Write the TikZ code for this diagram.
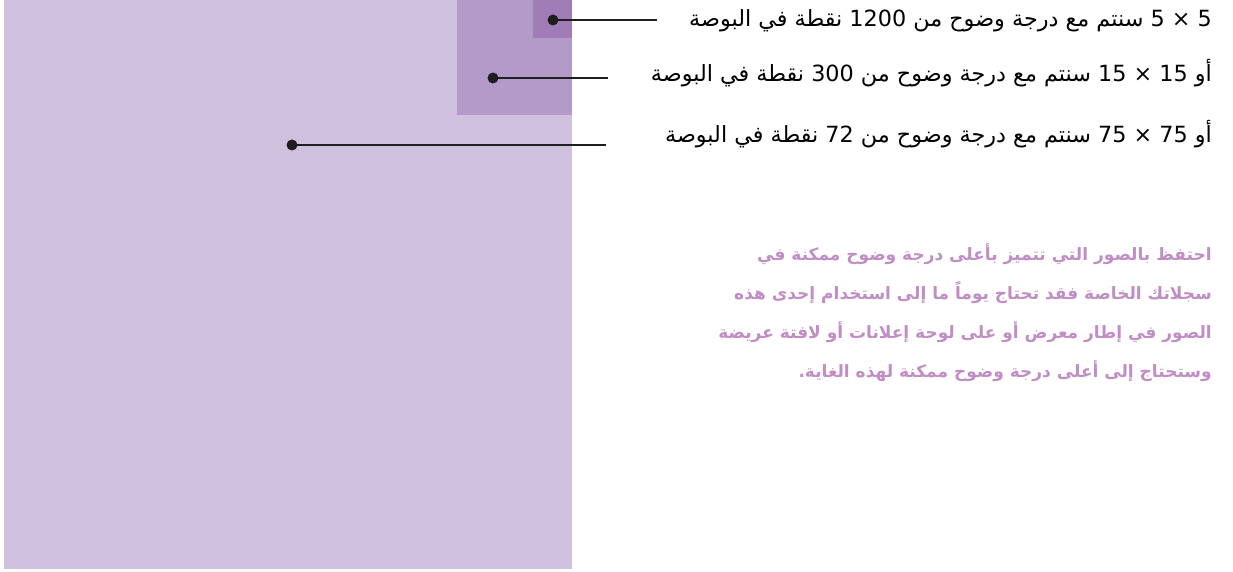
\documentclass[tikz,border=0pt]{standalone}
\usepackage{fontspec}
\newfontfamily\arabicfont[Script=Arabic]{DejaVu Sans}
\TeXXeTstate=1
\definecolor{bigc}{RGB}{207,192,222}
\definecolor{midc}{RGB}{180,154,200}
\definecolor{smallc}{RGB}{161,125,184}
\definecolor{parac}{RGB}{192,141,196}
\definecolor{dotc}{RGB}{30,30,30}
\begin{document}
\begin{tikzpicture}[x=1pt,y=-1pt,
  dotnode/.style={circle,fill=dotc,inner sep=0pt,minimum size=11pt},
  leader/.style={draw=dotc,line width=2.8pt},
  label/.style={anchor=base east,inner sep=0pt,font=\arabicfont\fontsize{22.3}{26}\selectfont},
  para/.style={anchor=base east,inner sep=0pt,align=right,text=parac,font=\arabicfont\bfseries\fontsize{17}{38.8}\selectfont}]
\useasboundingbox[fill=white] (0,0) rectangle (1233,572);
\fill[bigc] (4,0) rectangle (572,569);
\fill[midc] (457,0) rectangle (572,115);
\fill[smallc] (533,0) rectangle (572,38);
\node[dotnode] (d1) at (553,20) {};
\node[dotnode] (d2) at (493,78) {};
\node[dotnode] (d3) at (292,145) {};
\coordinate (e1) at (657,20);
\coordinate (e2) at (608,78);
\coordinate (e3) at (606,145);
\draw[leader] (d1.center) -- (e1);
\draw[leader] (d2.center) -- (e2);
\draw[leader] (d3.center) -- (e3);
\node[label] (t1) at (1212,27) {\beginR\beginL 5 × 5\endL{} سنتم مع درجة وضوح من \beginL 1200\endL{} نقطة في البوصة\endR};
\node[label] (t2) at (1212,82) {\beginR أو \beginL 15 × 15\endL{} سنتم مع درجة وضوح من \beginL 300\endL{} نقطة في البوصة\endR};
\node[label] (t3) at (1212,143) {\beginR أو \beginL 75 × 75\endL{} سنتم مع درجة وضوح من \beginL 72\endL{} نقطة في البوصة\endR};
\node[para] (p) at (1212,377) {\beginR احتفظ بالصور التي تتميز بأعلى درجة وضوح ممكنة في\endR\\
\beginR سجلاتك الخاصة فقد تحتاج يوماً ما إلى استخدام إحدى هذه\endR\\
\beginR الصور في إطار معرض أو على لوحة إعلانات أو لافتة عريضة\endR\\
\beginR وستحتاج إلى أعلى درجة وضوح ممكنة لهذه الغاية.\endR};
\end{tikzpicture}
\end{document}
